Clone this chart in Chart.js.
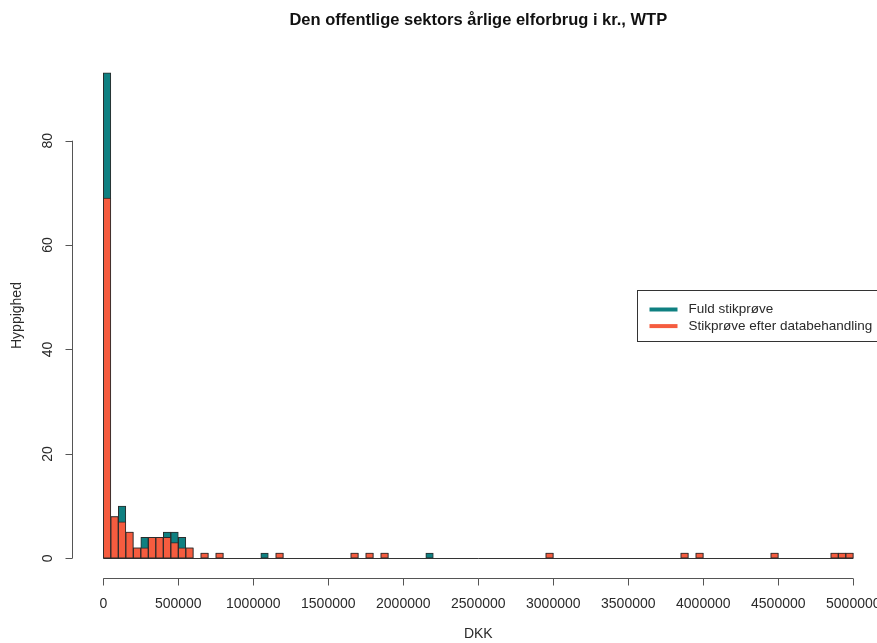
<!DOCTYPE html>
<html lang="da">
<head>
<meta charset="utf-8">
<title>Den offentlige sektors årlige elforbrug i kr., WTP</title>
<script src="https://cdn.jsdelivr.net/npm/chart.js@4/dist/chart.umd.min.js"></script>
<style>
  html, body { margin: 0; padding: 0; background: #fff; overflow: hidden; width: 877px; height: 643px; }
  #wrap { width: 887px; height: 643px; }
</style>
</head>
<body>
<div id="wrap"><canvas id="chart" width="887" height="643"></canvas></div>
<script>
// Labels
const chartTitle = 'Den offentlige sektors årlige elforbrug i kr., WTP';
const xTitle = 'DKK';
const yTitle = 'Hyppighed';
const seriesNames = ['Fuld stikprøve', 'Stikprøve efter databehandling'];
const seriesColors = ['#0f8081', '#f55c3f'];

// Histogram breaks: 100 bins of 50 000 DKK from 0 to 5 000 000
const binWidth = 50000;

// Counts per bin, full sample
const fullSample = [
  93, 8, 10, 5, 2, 4, 4, 4, 5, 5,
  4, 2, 0, 1, 0, 1, 0, 0, 0, 0,
  0, 1, 0, 1, 0, 0, 0, 0, 0, 0,
  0, 0, 0, 1, 0, 1, 0, 1, 0, 0,
  0, 0, 0, 1, 0, 0, 0, 0, 0, 0,
  0, 0, 0, 0, 0, 0, 0, 0, 0, 1,
  0, 0, 0, 0, 0, 0, 0, 0, 0, 0,
  0, 0, 0, 0, 0, 0, 0, 1, 0, 1,
  0, 0, 0, 0, 0, 0, 0, 0, 0, 1,
  0, 0, 0, 0, 0, 0, 0, 1, 1, 1
];

// Counts per bin, sample after data cleaning
const cleanedSample = [
  69, 8, 7, 5, 2, 2, 4, 4, 4, 3,
  2, 2, 0, 1, 0, 1, 0, 0, 0, 0,
  0, 0, 0, 1, 0, 0, 0, 0, 0, 0,
  0, 0, 0, 1, 0, 1, 0, 1, 0, 0,
  0, 0, 0, 0, 0, 0, 0, 0, 0, 0,
  0, 0, 0, 0, 0, 0, 0, 0, 0, 1,
  0, 0, 0, 0, 0, 0, 0, 0, 0, 0,
  0, 0, 0, 0, 0, 0, 0, 1, 0, 1,
  0, 0, 0, 0, 0, 0, 0, 0, 0, 1,
  0, 0, 0, 0, 0, 0, 0, 1, 1, 1
];

// Axis ticks
const xTickValues = [0, 500000, 1000000, 1500000, 2000000, 2500000, 3000000, 3500000, 4000000, 4500000, 5000000];
const yTickValues = [0, 20, 40, 60, 80];

// Each bin becomes a bar centred on its midpoint; empty bins draw nothing
function toPoints(counts) {
  return counts.map((c, i) => ({ x: i * binWidth + binWidth / 2, y: c === 0 ? null : c }));
}

const FONT = '"Liberation Sans", Arial, Helvetica, sans-serif';

// Axes, titles and legend in the style of a base-R histogram
const histDecor = {
  id: 'histDecor',
  beforeDatasetsDraw(chart) {
    const { ctx, scales: { x, y } } = chart;
    // zero line under the empty bins
    const y0 = Math.round(y.getPixelForValue(0)) + 0.5;
    ctx.save();
    ctx.strokeStyle = '#333';
    ctx.lineWidth = 1;
    ctx.beginPath();
    ctx.moveTo(x.getPixelForValue(0), y0);
    ctx.lineTo(x.getPixelForValue(fullSample.length * binWidth), y0);
    ctx.stroke();
    ctx.restore();
  },
  afterDraw(chart) {
    const { ctx, chartArea: area, scales: { x, y } } = chart;
    const tick = 7;
    ctx.save();
    ctx.strokeStyle = '#555';
    ctx.lineWidth = 1;

    // x axis
    const ax = Math.round(area.bottom) + 0.5;
    ctx.beginPath();
    ctx.moveTo(x.getPixelForValue(xTickValues[0]), ax);
    ctx.lineTo(x.getPixelForValue(xTickValues[xTickValues.length - 1]), ax);
    xTickValues.forEach(v => {
      const px = Math.round(x.getPixelForValue(v)) + 0.5;
      ctx.moveTo(px, ax);
      ctx.lineTo(px, ax + tick);
    });
    ctx.stroke();
    ctx.fillStyle = '#2a2a2a';
    ctx.font = '14px ' + FONT;
    ctx.textAlign = 'center';
    ctx.textBaseline = 'middle';
    xTickValues.forEach(v => ctx.fillText(String(v), x.getPixelForValue(v), ax + 26));

    // y axis
    const ay = Math.round(area.left) - 0.5;
    ctx.beginPath();
    ctx.moveTo(ay, y.getPixelForValue(yTickValues[0]));
    ctx.lineTo(ay, y.getPixelForValue(yTickValues[yTickValues.length - 1]));
    yTickValues.forEach(v => {
      const py = Math.round(y.getPixelForValue(v)) + 0.5;
      ctx.moveTo(ay, py);
      ctx.lineTo(ay - tick, py);
    });
    ctx.stroke();
    yTickValues.forEach(v => {
      ctx.save();
      ctx.translate(ay - 24, y.getPixelForValue(v));
      ctx.rotate(-Math.PI / 2);
      ctx.fillText(String(v), 0, 0);
      ctx.restore();
    });

    // axis titles
    const cx = (area.left + area.right) / 2;
    const cy = (area.top + area.bottom) / 2;
    ctx.fillText(xTitle, cx, 634);
    ctx.save();
    ctx.translate(17, cy);
    ctx.rotate(-Math.PI / 2);
    ctx.fillText(yTitle, 0, 0);
    ctx.restore();

    // main title
    ctx.fillStyle = '#111';
    ctx.font = 'bold 16.5px ' + FONT;
    ctx.fillText(chartTitle, cx, 20);

    // legend, right-hand side of the plot region
    ctx.font = '13.5px ' + FONT;
    const textW = Math.max(...seriesNames.map(s => ctx.measureText(s).width));
    const rowH = 16.6;
    const boxW = 12 + 28 + 11 + textW + 11;
    const boxH = 51;
    const bx = Math.round(area.right - boxW) + 0.5;
    const by = Math.round(cy - boxH / 2) + 0.5;
    ctx.fillStyle = '#fff';
    ctx.fillRect(bx, by, boxW, boxH);
    ctx.strokeStyle = '#333';
    ctx.strokeRect(bx, by, boxW, boxH);
    const firstRow = by + 19;
    chart.data.datasets.forEach((ds, i) => {
      const ry = firstRow + i * rowH;
      ctx.strokeStyle = ds.backgroundColor;
      ctx.lineWidth = 4;
      ctx.beginPath();
      ctx.moveTo(bx + 12, ry);
      ctx.lineTo(bx + 40, ry);
      ctx.stroke();
      ctx.fillStyle = '#2a2a2a';
      ctx.textAlign = 'left';
      ctx.fillText(ds.label, bx + 51, ry);
    });
    ctx.restore();
  }
};

const barStyle = {
  borderColor: '#2b2b2b',
  borderWidth: 1,
  borderSkipped: false,
  grouped: false,
  barPercentage: 1,
  categoryPercentage: 1
};

new Chart(document.getElementById('chart'), {
  type: 'bar',
  data: {
    datasets: [
      Object.assign({ label: seriesNames[0], data: toPoints(fullSample), backgroundColor: seriesColors[0], order: 2 }, barStyle),
      Object.assign({ label: seriesNames[1], data: toPoints(cleanedSample), backgroundColor: seriesColors[1], order: 1 }, barStyle)
    ]
  },
  options: {
    responsive: false,
    animation: false,
    layout: { padding: { left: 73.3, right: 3.7, top: 53.4, bottom: 65.3 } },
    scales: {
      x: { type: 'linear', display: false, offset: false, min: -200000, max: 5200000 },
      y: { display: false, min: -3.72, max: 96.72 }
    },
    plugins: {
      legend: { display: false },
      title: { display: false },
      tooltip: { enabled: false }
    }
  },
  plugins: [histDecor]
});
</script>
</body>
</html>
